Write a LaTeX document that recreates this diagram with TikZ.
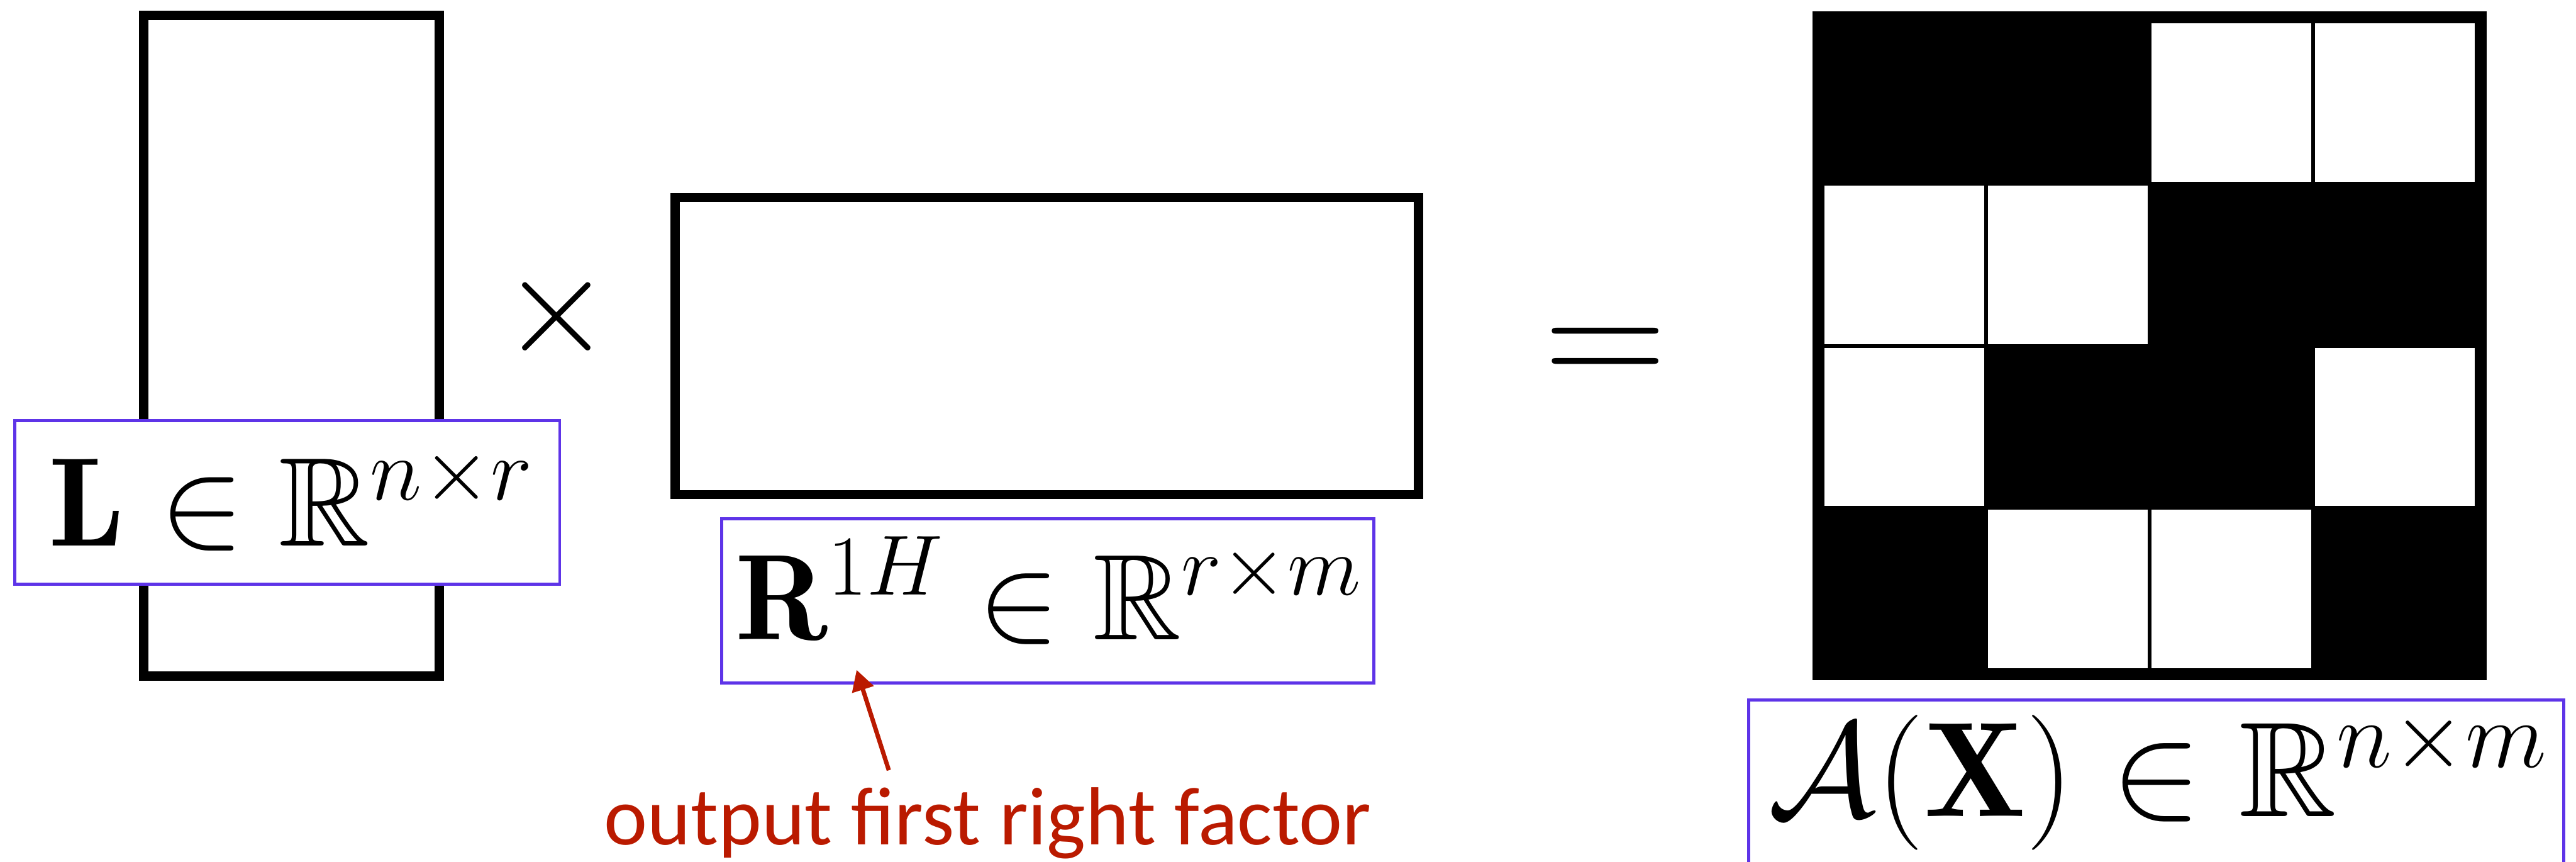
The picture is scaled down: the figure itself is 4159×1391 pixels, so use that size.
\RequirePackage{fix-cm}
\documentclass[tikz,border=0pt]{standalone}
\usepackage{amsmath}
\usepackage{amssymb}
\usepackage{fontspec}
\newfontfamily\notefont{Carlito}
\usepackage{tikz}
\usetikzlibrary{arrows.meta}
\definecolor{boxblue}{RGB}{94,52,232}
\definecolor{notered}{RGB}{186,26,0}

\begin{document}
\begin{tikzpicture}[x=0.01cm, y=-0.01cm, >={Triangle[length=9.5pt,width=10pt]},
    mat/.style={draw, line width=4.3pt, inner sep=0pt},
    lbox/.style={draw=boxblue, fill=white, line width=1.4pt, inner sep=0pt},
    big/.style={font=\fontsize{58}{60}\selectfont, anchor=base, inner sep=0pt}]
    \useasboundingbox (0,0) rectangle (4159,1391);

    % 矩阵
    \node[mat, minimum width=4.77cm, minimum height=10.66cm] (Lmat) at (470.5,558) {};
    \node[mat, minimum width=12cm, minimum height=4.79cm] (Rmat) at (1690,558.5) {};
    \fill (2926,18) rectangle (4015,1098);
    \foreach \r/\c in {0/2,0/3,1/0,1/1,2/0,2/3,3/1,3/2}
        \fill[white] ({2946+\c*263.75},{38+\r*261.5}) rectangle ++(257.75,255.5);

    % 运算符
    \node[anchor=base, inner sep=0pt, font=\fontsize{65}{70}\selectfont] (times) at (899,568) {$\times$};
    \node[anchor=base, inner sep=0pt, font=\fontsize{78}{80}\selectfont] (eq) at (2592,627) {$=$};

    % 标签
    \node[lbox, minimum width=8.79cm, minimum height=2.64cm] (Lbox) at (464,810.5) {};
    \node[big] (Ltxt) at (470,881) {$\mathbf{L} \in \mathbb{R}^{n\times r}$};
    \node[lbox, minimum width=10.52cm, minimum height=2.65cm] (Rbox) at (1691.5,970) {};
    \node[big, font=\fontsize{56}{60}\selectfont] (Rtxt) at (1693,1032) {$\mathbf{R}^{1H} \in \mathbb{R}^{r\times m}$};
    \node[lbox, minimum width=13.15cm, minimum height=2.68cm] (Abox) at (3481,1264) {};
    \node[big, font=\fontsize{62}{64}\selectfont] (Atxt) at (3484,1317) {$\mathcal{A}(\mathbf{X}) \in \mathbb{R}^{n\times m}$};

    % 说明
    \node[anchor=base west, inner sep=0pt, text=notered, font=\notefont\fontsize{37.8}{40}\selectfont] (note) at (975,1363) {output first right factor};
    \coordinate (tail) at (1435,1243);
    \coordinate (tip) at (1383,1081);
    \draw[->, notered, line width=2pt] (tail) -- (tip);
\end{tikzpicture}
\end{document}
